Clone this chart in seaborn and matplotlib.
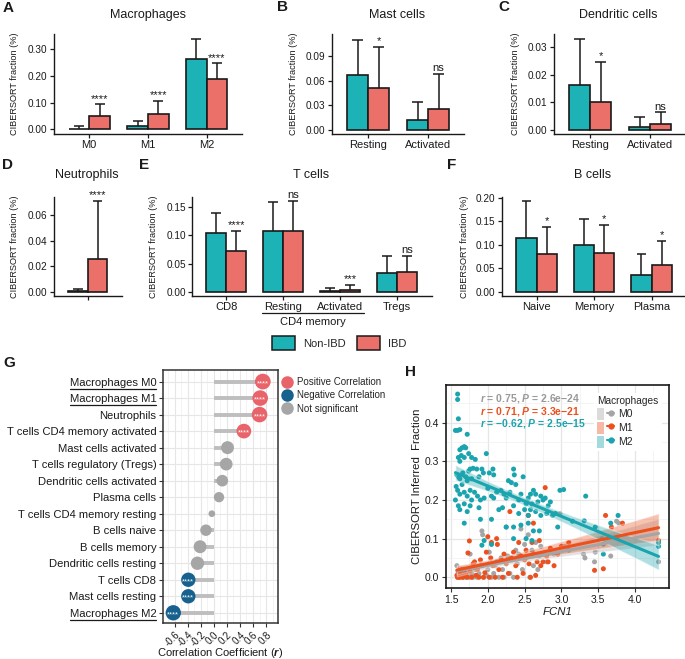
import numpy as np
import pandas as pd
import matplotlib
matplotlib.use("Agg")
import matplotlib.pyplot as plt
import seaborn as sns
from matplotlib.patches import Patch
from matplotlib.lines import Line2D
from matplotlib.colors import LogNorm
from matplotlib.transforms import IdentityTransform
from matplotlib.legend_handler import HandlerTuple

# ---------------- data ----------------
GROUPS = ["Non-IBD", "IBD"]

mac_cats = ["M0", "M1", "M2"]
mac_non = [0.003, 0.013, 0.262]
mac_non_sd = [0.009, 0.020, 0.075]
mac_ibd = [0.050, 0.057, 0.187]
mac_ibd_sd = [0.043, 0.050, 0.058]
mac_sig = ["****", "****", "****"]

mast_cats = ["Resting", "Activated"]
mast_non = [0.067, 0.012]
mast_non_sd = [0.043, 0.022]
mast_ibd = [0.0515, 0.0255]
mast_ibd_sd = [0.0495, 0.0425]
mast_sig = ["*", "ns"]

dc_cats = ["Resting", "Activated"]
dc_non = [0.0164, 0.0011]
dc_non_sd = [0.0165, 0.0037]
dc_ibd = [0.0103, 0.0021]
dc_ibd_sd = [0.0143, 0.0043]
dc_sig = ["*", "ns"]

neu_cats = ["Neutrophils"]
neu_non = [0.0011]
neu_non_sd = [0.0009]
neu_ibd = [0.0261]
neu_ibd_sd = [0.0451]
neu_sig = ["****"]

t_cats = ["CD8", "Resting", "Activated", "Tregs"]
t_non = [0.1038, 0.1084, 0.0010, 0.0338]
t_non_sd = [0.0350, 0.0506, 0.0068, 0.0302]
t_ibd = [0.0718, 0.1073, 0.0036, 0.0355]
t_ibd_sd = [0.0361, 0.0534, 0.0095, 0.0285]
t_sig = ["****", "ns", "***", "ns"]

b_cats = ["Naive", "Memory", "Plasma"]
b_non = [0.1143, 0.1000, 0.0364]
b_non_sd = [0.0797, 0.0557, 0.0443]
b_ibd = [0.0800, 0.0835, 0.0572]
b_ibd_sd = [0.0580, 0.0593, 0.0514]
b_sig = ["*", "*", "*"]

g_names = ["Macrophages M0", "Macrophages M1", "Neutrophils",
           "T cells CD4 memory activated", "Mast cells activated",
           "T cells regulatory (Tregs)", "Dendritic cells activated",
           "Plasma cells", "T cells CD4 memory resting", "B cells naive",
           "B cells memory", "Dendritic cells resting", "T cells CD8",
           "Mast cells resting", "Macrophages M2"]
g_r = [0.75, 0.71, 0.70, 0.46, 0.21, 0.19, 0.13, 0.08, -0.03, -0.12,
       -0.21, -0.25, -0.39, -0.39, -0.62]
g_class = ["Positive Correlation"] * 4 + ["Not significant"] * 8 + ["Negative Correlation"] * 3
g_class_order = ["Positive Correlation", "Negative Correlation", "Not significant"]
g_underlined = ["Macrophages M0", "Macrophages M1", "Macrophages M2"]

m2_pts = [(1.59,0.474),(1.59,0.46),(1.60,0.41),(1.56,0.38),(1.59,0.38),(1.62,0.382),(1.72,0.37),
          (1.62,0.33),(1.65,0.335),(1.68,0.338),(1.70,0.335),(1.64,0.315),(1.68,0.31),(1.74,0.32),
          (1.78,0.31),(1.83,0.305),(1.98,0.32),(1.60,0.31),
          (1.58,0.265),(1.60,0.26),(1.62,0.255),(1.66,0.27),(1.70,0.26),(1.74,0.275),(1.76,0.28),
          (1.80,0.282),(1.85,0.28),(1.92,0.28),(1.94,0.27),(2.02,0.27),(2.08,0.265),(2.07,0.28),
          (1.62,0.30),(1.72,0.25),(1.78,0.255),(1.88,0.26),(2.35,0.28),(2.36,0.265),(2.48,0.26),
          (2.28,0.25),(2.32,0.245),
          (1.57,0.235),(1.59,0.225),(1.62,0.215),(1.65,0.24),(1.68,0.22),(1.72,0.21),(1.76,0.225),
          (1.78,0.20),(1.82,0.22),(1.86,0.21),(1.90,0.20),(1.95,0.205),(2.00,0.23),(2.05,0.21),
          (2.08,0.205),(2.12,0.22),(2.18,0.225),(2.22,0.215),(2.25,0.205),(2.30,0.22),(2.38,0.24),
          (2.42,0.20),(2.45,0.215),(2.52,0.19),(2.55,0.205),(2.58,0.215),(2.62,0.225),(2.65,0.215),
          (2.60,0.19),(2.68,0.195),(2.72,0.21),(2.75,0.20),(2.78,0.205),(2.82,0.185),(2.85,0.195),
          (2.98,0.225),(3.03,0.227),(3.33,0.21),
          (1.56,0.20),(1.60,0.185),(1.62,0.175),(1.68,0.19),(1.72,0.17),(1.76,0.185),(1.88,0.18),
          (2.15,0.175),(2.20,0.18),(2.35,0.185),(2.42,0.165),(2.50,0.175),(2.55,0.16),(2.58,0.175),
          (2.65,0.17),(2.72,0.16),(2.80,0.165),(2.88,0.16),(2.92,0.165),(3.15,0.145),
          (1.68,0.14),(1.90,0.15),(2.05,0.15),(2.25,0.13),(2.35,0.13),(2.45,0.135),(2.55,0.14),
          (2.62,0.12),(2.70,0.12),(2.95,0.13),(1.92,0.083),(2.05,0.085),(1.95,0.095),(2.35,0.10),
          (2.52,0.10),(2.60,0.095),(3.57,0.06),(3.46,0.13),(3.67,0.14),(3.77,0.16),(4.32,0.08),
          (4.32,0.09),(3.31,0.146),(3.57,0.086)]
m1_pts = [(1.58,0.005),(1.59,0.0),(1.60,0.012),(1.61,0.003),(1.62,0.0),(1.63,0.008),(1.65,0.02),
          (1.66,0.0),(1.68,0.005),(1.70,0.01),(1.72,0.0),(1.73,0.063),(1.75,0.094),(1.76,0.015),
          (1.78,0.0),(1.80,0.035),(1.82,0.04),(1.84,0.005),(1.86,0.02),(1.88,0.0),(1.90,0.045),
          (1.92,0.03),(1.94,0.0),(1.96,0.012),(1.98,0.065),(2.00,0.105),(2.02,0.0),(2.04,0.05),
          (2.05,0.09),(2.07,0.03),(2.10,0.0),(2.12,0.10),(2.13,0.085),(2.15,0.02),(2.18,0.045),
          (2.20,0.0),(2.22,0.06),(2.25,0.035),(2.28,0.01),(2.30,0.17),(2.32,0.05),(2.35,0.065),
          (2.38,0.03),(2.40,0.0),(2.42,0.09),(2.45,0.055),(2.48,0.01),(2.50,0.045),(2.52,0.07),
          (2.55,0.16),(2.56,0.035),(2.58,0.0),(2.60,0.09),(2.62,0.14),(2.63,0.06),(2.65,0.005),
          (2.67,0.04),(2.70,0.095),(2.72,0.03),(2.75,0.04),(2.78,0.232),(2.80,0.055),(2.82,0.04),
          (2.85,0.075),(2.90,0.03),(2.95,0.06),(3.00,0.08),(3.10,0.09),(3.45,0.018),(3.57,0.022),
          (3.60,0.16),(3.68,0.13),(3.83,0.14),(4.32,0.095),(3.75,0.10)]
m0_pts = [(1.58,0.03),(1.59,0.0),(1.60,0.015),(1.62,0.0),(1.64,0.005),(1.66,0.0),(1.68,0.01),
          (1.70,0.0),(1.72,0.005),(1.75,0.0),(1.76,0.06),(1.78,0.01),(1.80,0.0),(1.83,0.02),
          (1.85,0.0),(1.88,0.01),(1.90,0.03),(1.92,0.12),(1.93,0.11),(1.95,0.0),(1.98,0.005),
          (2.00,0.02),(2.02,0.065),(2.05,0.0),(2.08,0.01),(2.10,0.03),(2.12,0.04),(2.15,0.0),
          (2.18,0.05),(2.20,0.02),(2.22,0.0),(2.25,0.13),(2.27,0.055),(2.30,0.01),(2.33,0.045),
          (2.35,0.0),(2.38,0.07),(2.40,0.035),(2.42,0.06),(2.45,0.125),(2.47,0.02),(2.50,0.085),
          (2.52,0.05),(2.55,0.11),(2.57,0.0),(2.60,0.07),(2.62,0.03),(2.65,0.09),(2.68,0.02),
          (2.70,0.055),(2.72,0.08),(2.75,0.06),(2.80,0.04),(2.85,0.07),(2.90,0.06),(2.98,0.165),
          (3.05,0.08),(3.10,0.07),(3.30,0.06),(3.32,0.05),(3.45,0.04),(3.46,0.065),(3.55,0.10),
          (3.67,0.055),(3.75,0.145),(3.78,0.14),(4.32,0.04)]
h_series = ["M0", "M1", "M2"]
h_notes = [r"$\mathit{r}$ = 0.75, $\mathit{P}$ = 2.6e−24",
           r"$\mathit{r}$ = 0.71, $\mathit{P}$ = 3.3e−21",
           r"$\mathit{r}$ = −0.62, $\mathit{P}$ = 2.5e−15"]

# ---------------- style ----------------
sns.set_theme(style="white")
plt.rcParams['font.family'] = ['Liberation Sans', 'DejaVu Sans']
plt.rcParams['mathtext.fontset'] = 'custom'
plt.rcParams['mathtext.rm'] = 'Liberation Sans:bold'
plt.rcParams['mathtext.it'] = 'Liberation Sans:bold:italic'
plt.rcParams['mathtext.bf'] = 'Liberation Sans:bold'
plt.rcParams['axes.unicode_minus'] = False

PAL = {"Non-IBD": "#1DB2B5", "IBD": "#EC706A"}
EDGE = "#1a1a1a"
TXT = "#1a1a1a"
H_COL = {"M0": "#A5A5A5", "M1": "#EC501E", "M2": "#1AA4AE"}
G_COL = {"Positive Correlation": "#E9646A", "Negative Correlation": "#17618F",
         "Not significant": "#A6A6A6"}

W, H = 685, 659
fig = plt.figure(figsize=(W / 100, H / 100), dpi=100)


def add_ax(l, t, r, b):
    return fig.add_axes([l / W, 1 - b / H, (r - l) / W, (b - t) / H])


def ftext(x, y, s, **kw):
    return fig.text(x / W, 1 - y / H, s, **kw)


def bar_panel(box, cats, non, non_sd, ibd, ibd_sd, sig, yticks, yfmt, ylim,
              title, title_xy, ylab_x, xlabels=True):
    ax = add_ax(*box)
    n = len(cats)
    df = pd.DataFrame({"cat": cats * 2, "group": [GROUPS[0]] * n + [GROUPS[1]] * n,
                       "val": list(non) + list(ibd)})
    sns.barplot(data=df, x="cat", y="val", hue="group", order=cats, hue_order=GROUPS,
                palette=PAL, width=0.7, edgecolor=EDGE, linewidth=1.2, errorbar=None,
                legend=False, saturation=1, ax=ax)
    bw = 0.35
    cap = 0.085
    for h, (means, sds) in enumerate([(non, non_sd), (ibd, ibd_sd)]):
        for i, (m, s) in enumerate(zip(means, sds)):
            x = i + (h - 0.5) * bw
            ax.vlines(x, m, m + s, color=EDGE, lw=1.1, zorder=1)
            ax.hlines(m + s, x - cap, x + cap, color=EDGE, lw=1.1, zorder=1)
    for i, lab in enumerate(sig):
        x = i + 0.5 * bw
        ax.annotate(lab, (x, ibd[i] + ibd_sd[i]), xytext=(0, 0.5), textcoords='offset points',
                    ha='center', va='bottom', fontsize=8, color=TXT)
    ax.set_xlim(-0.6, n - 0.4)
    ax.set_ylim(*ylim)
    ax.set_yticks(yticks)
    ax.set_yticklabels([yfmt.format(v) for v in yticks])
    if not xlabels:
        ax.set_xticks(range(n))
        ax.set_xticklabels([""] * n)
    ax.set_xlabel("")
    ax.set_ylabel("")
    for s in ["top", "right"]:
        ax.spines[s].set_visible(False)
    for s in ["left", "bottom"]:
        ax.spines[s].set_color(EDGE)
        ax.spines[s].set_linewidth(1.0)
    ax.tick_params(axis='both', length=3, width=0.9, color=EDGE, pad=1.5,
                   left=True, bottom=True)
    ax.tick_params(axis='y', labelsize=7.2, labelcolor=TXT)
    ax.tick_params(axis='x', labelsize=8, labelcolor=TXT)
    ftext(title_xy[0], title_xy[1], title, ha='center', va='center', fontsize=9, color=TXT)
    ftext(ylab_x, (box[1] + box[3]) / 2, "CIBERSORT fraction (%)", rotation=90,
          ha='center', va='center', fontsize=6.6, color=TXT)
    return ax


bar_panel((54, 34, 242, 134), mac_cats, mac_non, mac_non_sd, mac_ibd, mac_ibd_sd, mac_sig,
          [0, 0.1, 0.2, 0.3], "{:.2f}", (-0.0168, 0.354), "Macrophages", (148, 15), 15)
bar_panel((332, 34, 464, 134), mast_cats, mast_non, mast_non_sd, mast_ibd, mast_ibd_sd, mast_sig,
          [0, 0.03, 0.06, 0.09], "{:.2f}", (-0.0049, 0.1167), "Mast cells", (397, 15), 293)
bar_panel((554, 34, 686, 134), dc_cats, dc_non, dc_non_sd, dc_ibd, dc_ibd_sd, dc_sig,
          [0, 0.01, 0.02, 0.03], "{:.2f}", (-0.00145, 0.0348), "Dendritic cells", (618, 15), 515)
bar_panel((54, 197, 121.5, 296), neu_cats, neu_non, neu_non_sd, neu_ibd, neu_ibd_sd, neu_sig,
          [0, 0.02, 0.04, 0.06], "{:.2f}", (-0.0031, 0.0743), "Neutrophils", (87, 175), 15,
          xlabels=False)
bar_panel((192, 197, 431.5, 296), t_cats, t_non, t_non_sd, t_ibd, t_ibd_sd, t_sig,
          [0, 0.05, 0.10, 0.15], "{:.2f}", (-0.0071, 0.1678), "T cells", (311, 175), 153)
bar_panel((502, 197, 686, 296), b_cats, b_non, b_non_sd, b_ibd, b_ibd_sd, b_sig,
          [0, 0.05, 0.10, 0.15, 0.20], "{:.2f}", (-0.0086, 0.2021), "B cells", (593, 175), 465)

# CD4 memory bracket
fig.add_artist(Line2D([262 / W, 364 / W], [1 - 313 / H, 1 - 313 / H], color=EDGE, lw=0.9))
ftext(313, 322, "CD4 memory", ha='center', va='center', fontsize=8, color=TXT)

# shared legend
leg_handles = [Patch(facecolor=PAL[g], edgecolor=EDGE, linewidth=1.1) for g in GROUPS]
fig.legend(leg_handles, GROUPS, loc='center', bbox_to_anchor=(339 / W, 1 - 343 / H), ncol=2,
           frameon=False, fontsize=8, handlelength=2.1, handleheight=1.45,
           handletextpad=0.7, columnspacing=1.0)

# ---------------- panel G ----------------
axg = add_ax(163.3, 370, 277.7, 622.7)
pos = np.arange(len(g_names))
axg.hlines(pos, 0, g_r, color='#BEBEBE', lw=2.8, zorder=2)
dfg = pd.DataFrame({'r': g_r, 'pos': pos, 'cls': g_class, 'absr': np.abs(g_r)})
sns.scatterplot(data=dfg, x='r', y='pos', hue='cls', hue_order=g_class_order, palette=G_COL,
                size='absr', sizes=(23, 128), size_norm=LogNorm(0.03, 0.75), linewidth=0,
                alpha=1, legend=False, ax=axg, zorder=3)
for r, p, c in zip(g_r, pos, g_class):
    if c != "Not significant":
        axg.text(r, p + 0.12, "****", color='white', fontsize=5.5, ha='center', va='center',
                 zorder=4)
axg.set_ylim(len(g_names) - 0.4, -0.7)
axg.set_xlim(-0.773, 0.978)
axg.set_yticks(pos)
axg.set_yticklabels(g_names)
xt = [-0.6, -0.4, -0.2, 0.0, 0.2, 0.4, 0.6, 0.8]
axg.set_xticks(xt)
axg.set_xticklabels([f"{v:.1f}" for v in xt], rotation=45, ha='right', rotation_mode='anchor')
axg.set_xticks(np.arange(-0.7, 0.95, 0.2), minor=True)
axg.grid(True, which='major', color='#E6E6E6', lw=0.8)
axg.grid(True, which='minor', axis='x', color='#EFEFEF', lw=0.5)
axg.set_axisbelow(True)
for s in axg.spines.values():
    s.set_color('#333333')
    s.set_linewidth(1.1)
axg.tick_params(axis='both', which='major', length=3, width=0.8, color='#333333',
                left=True, bottom=True, pad=2)
axg.tick_params(axis='y', labelsize=8.1, labelcolor=TXT)
axg.tick_params(axis='x', labelsize=7, labelcolor=TXT)
axg.tick_params(which='minor', length=0)
axg.set_xlabel("")
axg.set_ylabel("")
plt.rcParams['mathtext.rm'] = 'Liberation Sans'
plt.rcParams['mathtext.it'] = 'Liberation Sans:italic'
ftext(220, 653, r"Correlation Coefficient ($\it{r}$)", ha='center', va='center', fontsize=8,
      color=TXT)
g_leg = [Line2D([], [], marker='o', ls='', ms=8, color=G_COL[c]) for c in g_class_order]
axg.legend(g_leg, g_class_order, loc='upper left', bbox_to_anchor=(1.03, 0.98), frameon=False,
           fontsize=7, handlelength=0.9, handletextpad=0.5, labelspacing=0.35, borderpad=0.2,
           borderaxespad=0)

# ---------------- panel H ----------------
axh = add_ax(446, 385, 669.3, 588.3)
pts = {"M0": m0_pts, "M1": m1_pts, "M2": m2_pts}
dfh = pd.DataFrame([(k, x, y) for k in h_series for (x, y) in pts[k]],
                   columns=["type", "FCN1", "frac"])
sns.scatterplot(data=dfh, x="FCN1", y="frac", hue="type", hue_order=h_series, palette=H_COL,
                s=13, linewidth=0, alpha=1, legend=False, ax=axh, zorder=3)
for k in h_series:
    sub = dfh[dfh["type"] == k]
    sns.regplot(data=sub, x="FCN1", y="frac", scatter=False, color=H_COL[k], ci=95, seed=0,
                n_boot=1000, truncate=True, line_kws=dict(lw=2.2, zorder=5), ax=axh)
    axh.collections[-1].set_alpha(0.35)
    axh.collections[-1].set_zorder(4)
axh.set_xlim(1.432, 4.466)
axh.set_ylim(-0.0285, 0.4975)
axh.set_xticks([1.5, 2.0, 2.5, 3.0, 3.5, 4.0])
axh.set_yticks([0.0, 0.1, 0.2, 0.3, 0.4])
axh.set_xticklabels([f"{v:.1f}" for v in [1.5, 2.0, 2.5, 3.0, 3.5, 4.0]])
axh.set_yticklabels([f"{v:.1f}" for v in [0.0, 0.1, 0.2, 0.3, 0.4]])
axh.set_xticks(np.arange(1.75, 4.4, 0.5), minor=True)
axh.set_yticks(np.arange(0.05, 0.49, 0.1), minor=True)
axh.grid(True, which='major', color='#E6E6E6', lw=0.9)
axh.grid(True, which='minor', color='#F0F0F0', lw=0.5)
axh.set_axisbelow(True)
for s in axh.spines.values():
    s.set_color('#1a1a1a')
    s.set_linewidth(1.2)
axh.tick_params(axis='both', which='major', length=3, width=0.8, color='#333333',
                left=True, bottom=True, labelsize=7.5, labelcolor=TXT, pad=2)
axh.tick_params(which='minor', length=0)
axh.set_xlabel("")
axh.set_ylabel("")
ftext(558, 612, "FCN1", ha='center', va='center', fontsize=8.2, style='italic', color=TXT)
ftext(417, 486.7, "CIBERSORT Inferred  Fraction", rotation=90, ha='center', va='center',
      fontsize=8.2, color=TXT)
plt.rcParams['mathtext.rm'] = 'Liberation Sans:bold'
plt.rcParams['mathtext.it'] = 'Liberation Sans:bold:italic'
for k, note, yy in zip(h_series, h_notes, [0.935, 0.872, 0.812]):
    axh.text(0.152, yy, note, transform=axh.transAxes, ha='left', va='center', fontsize=7.5,
             fontweight='bold', color=H_COL[k] if k != "M0" else "#999999")
h_handles = [(Patch(facecolor=H_COL[k], alpha=0.4, edgecolor='none'),
              Line2D([], [], color=H_COL[k], lw=1.5, marker='o', ms=3.5)) for k in h_series]
lg = axh.legend(h_handles, h_series, title="Macrophages", loc='upper right',
                bbox_to_anchor=(0.99, 0.985), fontsize=7.5, title_fontsize=7.3, frameon=True,
                handlelength=1.6, handleheight=1.5, labelspacing=0.12, borderpad=0.3,
                handletextpad=0.4, handler_map={tuple: HandlerTuple(ndivide=None)})
lg.get_frame().set_facecolor('white')
lg.get_frame().set_edgecolor('none')
lg.get_frame().set_alpha(1)
lg._legend_box.align = "left"

# ---------------- panel letters ----------------
for lab, (x, y) in {"A": (8, 8), "B": (283, 7), "C": (504, 7), "D": (8, 165), "E": (144, 165),
                    "F": (452, 165), "G": (9, 363), "H": (410, 372)}.items():
    ftext(x, y, lab, ha='center', va='center', fontsize=11, fontweight='bold', color=TXT)

# underline selected labels in G
fig.canvas.draw()
renderer = fig.canvas.get_renderer()
for tl in axg.get_yticklabels():
    if tl.get_text() in g_underlined:
        bb = tl.get_window_extent(renderer)
        fig.add_artist(Line2D([bb.x0, bb.x1], [bb.y0 - 1, bb.y0 - 1], color=EDGE, lw=0.9,
                              transform=IdentityTransform()))

fig.savefig("out.png", dpi=100)
